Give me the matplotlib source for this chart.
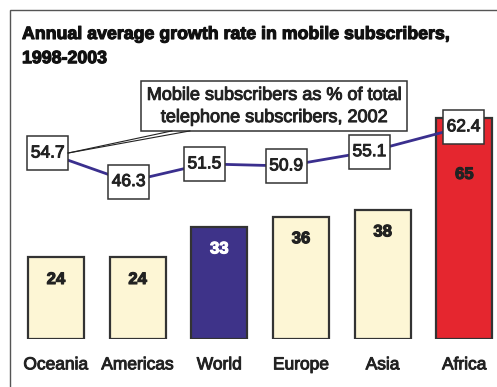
import matplotlib
matplotlib.use('Agg')
import matplotlib.pyplot as plt
from matplotlib.patches import Rectangle
import matplotlib.patheffects as pe

## Data
regions = ['Oceania', 'Americas', 'World', 'Europe', 'Asia', 'Africa'] # Categories
growth = [24, 24, 33, 36, 38, 65] # Annual average growth 1998-2003 [%]
share = [54.7, 46.3, 51.5, 50.9, 55.1, 62.4] # Mobile as % of total telephone subs, 2002
bar_colors = ['#fdf6d5', '#fdf6d5', '#3e3389', '#fdf6d5', '#fdf6d5', '#e5262f']
value_colors = ['#222222', '#222222', 'white', '#222222', '#222222', '#222222']
box_shift = [-0.10, -0.11, -0.18, -0.18, -0.16, -0.01] # Label boxes sit a bit left of bars

plt.rcParams['font.family'] = ['Liberation Sans', 'DejaVu Sans']

def heavy(col, w=0.7): # thicken text a bit, the original is rendered quite heavy
    return [pe.withStroke(linewidth=w, foreground=col)]

fig = plt.figure(figsize=(4.97, 3.87), dpi=100)
ax = fig.add_axes([11/497, 48/387, 486/497, 306/387])
ax.set_xlim(-0.55, 5.4)
ax.set_ylim(0, 90)
ax.axis('off')

# Outer frame (only top and left edges visible)
fig.patches.append(Rectangle((10/497, -0.1), 1.2, 1.1 - 10/387,
    transform=fig.transFigure, fill=False, ec='#555555', lw=1.0))

x = list(range(len(regions)))
ax.bar(x, growth, width=0.686, color=bar_colors, edgecolor='#333333', lw=1.6, zorder=1)

# Bar values
bw, bh = 0.5, 10.0 # Label box size [category units, % units]
for i in x:
    yv = growth[i] - 6.5
    if share[i] - bh/2 < growth[i]: # label box covers the bar top
        yv = share[i] - bh/2 - 9
    ax.text(i, yv, str(growth[i]), ha='center', va='center', fontsize=12,
        fontweight='bold', color=value_colors[i], zorder=5,
        path_effects=heavy(value_colors[i], 0.8))

# Share line with boxed labels
xs = [i + s for i, s in zip(x, box_shift)]
ax.plot(xs, share, color='#3a2f8e', lw=2, zorder=3)
for xi, v in zip(xs, share):
    ax.add_patch(Rectangle((xi - bw/2, v - bh/2), bw, bh, fc='white',
        ec='#333333', lw=1.1, zorder=4))
    ax.text(xi, v, f'{v:.1f}', ha='center', va='center', fontsize=12.5,
        color='#222222', zorder=5, path_effects=heavy('#222222'))

# Callout
ax.text(2.67, 68.4, 'Mobile subscribers as % of total\ntelephone subscribers, 2002',
    ha='center', va='center', fontsize=13, linespacing=1.4, color='#222222',
    bbox=dict(boxstyle='square,pad=0.3', fc='white', ec='#333333', lw=1.1),
    zorder=6, path_effects=heavy('#222222'))
apex = (xs[0] + bw/2, share[0])
for xe in [1.42, 1.64]:
    ax.plot([apex[0], xe], [apex[1], 61.2], color='#222222', lw=0.8, zorder=6)

# Category labels
for i in x:
    ax.text(i, -7.6, regions[i], ha='center', va='center', fontsize=12.5,
        color='#222222', clip_on=False, path_effects=heavy('#222222'))

# Title
fig.text(22/497, 1 - 26/387, 'Annual average growth rate in mobile subscribers,\n1998-2003',
    ha='left', va='top', fontsize=12.8, fontweight='bold', linespacing=1.55,
    color='#111111', path_effects=heavy('#111111', 0.8))

fig.savefig('out.png', dpi=100)
